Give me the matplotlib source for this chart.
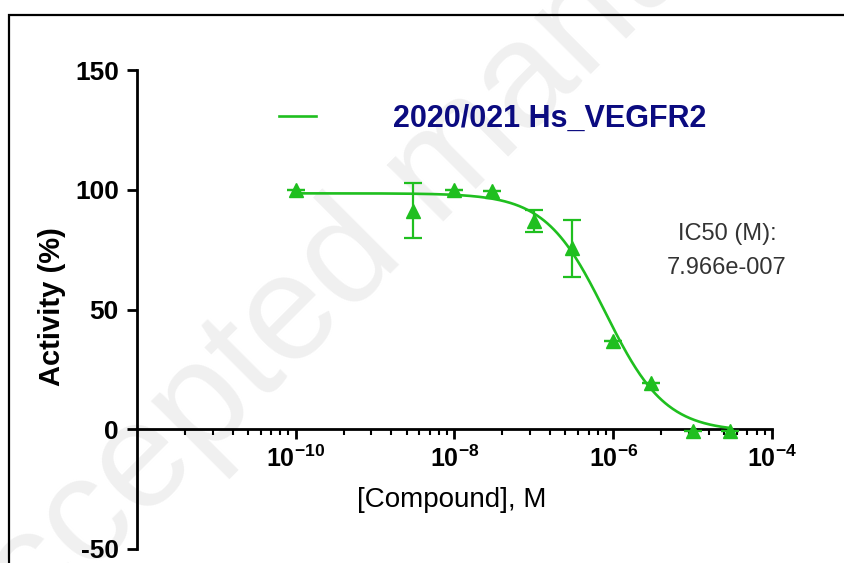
import numpy as np
import matplotlib
matplotlib.use('Agg')
import matplotlib.pyplot as plt
from matplotlib.patches import Rectangle
from matplotlib.ticker import FixedLocator, NullFormatter

plt.rcParams['font.family'] = ['Liberation Sans', 'DejaVu Sans']
plt.rcParams['mathtext.fontset'] = 'custom'
plt.rcParams['mathtext.rm'] = 'Liberation Sans'
plt.rcParams['mathtext.bf'] = 'Liberation Sans:bold'

# concentration (M), mean activity (%) and SD
conc = [1e-10, 3e-9, 1e-8, 3e-8, 1e-7, 3e-7, 1e-6, 3e-6, 1e-5, 3e-5]
activity = [99.8, 91.3, 100.0, 99.5, 87.0, 75.5, 37.0, 19.4, -0.8, -0.8]
sd = [0.0, 11.5, 0.0, 0.0, 4.6, 11.8, 0.0, 0.0, 0.0, 0.0]

# 4PL fit parameters
fit_top = 98.5
fit_bottom = -1.0
ic50 = 7.966e-7
hill = 1.15

series_name = '2020/021 Hs_VEGFR2'
xticks = [1e-10, 1e-8, 1e-6, 1e-4]
xticklabels = [r'$\mathbf{10^{-10}}$', r'$\mathbf{10^{-8}}$',
               r'$\mathbf{10^{-6}}$', r'$\mathbf{10^{-4}}$']
yticks = [-50, 0, 50, 100, 150]

green = '#1fbf1f'
W, H = 845, 563

fig = plt.figure(figsize=(W / 100, H / 100), dpi=100)
ax = fig.add_axes([137 / W, 1 - 549 / H, (772 - 137) / W, (549 - 70) / H])
ax.patch.set_alpha(0)

# faint watermark behind the plot
fig.text(-35 / W, 1 - 700 / H, 'Accepted manuscript', rotation=45,
         rotation_mode='anchor', ha='left', va='baseline',
         fontsize=108, color='#f0f0f0', zorder=-5)

# page frame
fig.patches.append(Rectangle((9 / W, -0.2), 1.2, 1.2 - 15 / H,
                             transform=fig.transFigure, fill=False,
                             edgecolor='black', linewidth=1.6, zorder=-4))

xs = np.logspace(np.log10(conc[0]), np.log10(conc[-1]), 400)
ys = fit_bottom + (fit_top - fit_bottom) / (1 + (xs / ic50) ** hill)
fit_line, = ax.plot(xs, ys, color=green, linewidth=1.9, label=series_name,
                    zorder=3)

ax.errorbar(conc, activity, yerr=sd, fmt='^', color=green, markersize=10,
            elinewidth=1.6, capsize=6.5, capthick=1.6, clip_on=False, zorder=4)

ax.set_xscale('log')
ax.set_xlim(1e-12, 1e-4)
ax.set_ylim(-50, 150)

ax.spines['top'].set_visible(False)
ax.spines['right'].set_visible(False)
ax.spines['bottom'].set_position(('data', 0))
for s in ('left', 'bottom'):
    ax.spines[s].set_linewidth(2)

# minor ticks split each two-decade step like a single decade
minor = [10.0 ** a * k ** 2 for a in (-12, -10, -8, -6) for k in range(2, 10)]
ax.xaxis.set_major_locator(FixedLocator(xticks))
ax.xaxis.set_minor_locator(FixedLocator(minor))
ax.xaxis.set_minor_formatter(NullFormatter())
ax.set_xticklabels(xticklabels, fontsize=18)
ax.set_yticks(yticks)
ax.set_yticklabels([str(v) for v in yticks], fontsize=19, fontweight='bold')

ax.tick_params(axis='both', which='major', direction='out', length=7,
               width=2, pad=5)
ax.tick_params(axis='x', which='minor', direction='out', length=4, width=1.5)
ax.tick_params(axis='y', which='major', pad=6)

ax.set_xlabel('[Compound], M', fontsize=20)
ax.xaxis.set_label_coords((452 - 137) / 635, (549 - 500) / 479)
ax.xaxis.label.set_va('center')
ax.set_ylabel('Activity (%)', fontsize=21, fontweight='bold')
ax.yaxis.set_label_coords((52 - 137) / 635, (549 - 307) / 479)
ax.yaxis.label.set_va('center')

ax.legend(handles=[fit_line], loc='center left',
          bbox_to_anchor=(279 / W, 1 - 119 / H), bbox_transform=fig.transFigure,
          frameon=False, borderpad=0, borderaxespad=0,
          handlelength=1.21, handletextpad=2.52,
          prop={'weight': 'bold', 'size': 22}, labelcolor='#0b0b80')

fig.text(727 / W, 1 - 251 / H, 'IC50 (M):\n7.966e-007', ha='center',
         va='center', fontsize=17, color='#333333', linespacing=1.75)

fig.savefig('out.png', dpi=100)
